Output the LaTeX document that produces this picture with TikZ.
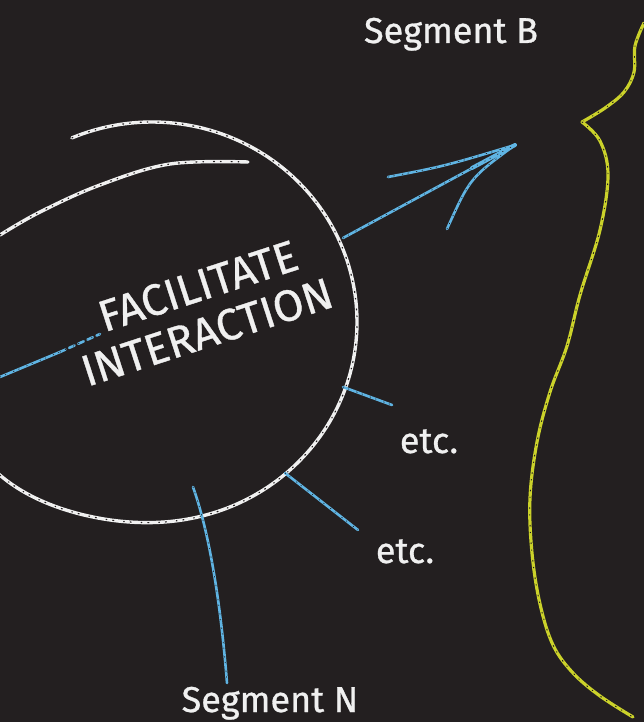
\documentclass[tikz,border=0pt]{standalone}
\usepackage{fontspec}
\setmainfont{Fira Sans}[FakeBold=0.8]
\definecolor{board}{HTML}{231F20}
\definecolor{chalkwhite}{HTML}{F0F0F0}
\definecolor{chalkblue}{HTML}{5FB4E3}
\definecolor{chalkyellow}{HTML}{CBD22A}
\tikzset{
  whitechalk/.style={draw=chalkwhite, line width=3.4pt, line cap=round, line join=round,
    postaction={draw=board, line width=1.2pt, dash pattern=on 1pt off 6pt on 0.6pt off 10pt}},
  bluechalk/.style={draw=chalkblue, line width=2.6pt, line cap=round, line join=round,
    postaction={draw=board, line width=0.7pt, dash pattern=on 0.8pt off 5pt on 0.6pt off 8pt}},
  yellowchalk/.style={draw=chalkyellow, line width=3.2pt, line cap=round, line join=round,
    postaction={draw=board, line width=0.9pt, dash pattern=on 1pt off 6pt on 0.6pt off 10pt}},
  chalktext/.style={text=chalkwhite, inner sep=0pt, font=\fontsize{36}{36}\selectfont},
  titletext/.style={text=chalkwhite, inner sep=0pt, font=\fontsize{44}{44}\selectfont},
}
\begin{document}
\begin{tikzpicture}[x=1pt, y=-1pt]
\fill[board] (0,0) rectangle (644,722);
\useasboundingbox (0,0) rectangle (644,722);

% chalk circle (outer loop and inner second pass)
\draw[whitechalk] plot[domain=-113:140, samples=90, smooth]
  ({152+(205+14*exp(-((\x-140)/28)^2))*cos(\x)}, {322+(200+14*exp(-((\x-140)/28)^2))*sin(\x)});
\draw[whitechalk] plot[smooth, tension=0.6] coordinates {(0,235) (40,212) (100,185) (170,164) (248,162)};

% yellow curve
\coordinate (yk) at (582,122);
\draw[yellowchalk] plot[smooth, tension=0.6] coordinates {(644,23) (635,46) (634,72) (624,92) (605,108) (582,122)};
\draw[yellowchalk] plot[smooth, tension=0.6] coordinates {(582,122) (600,141) (608,175) (600,230) (580,295) (567,346) (550,392) (537,442) (530,498) (532,553) (540,604) (553,645) (573,673) (600,696) (633,717)};

% texts
\node[titletext, rotate=18] (fac) at (198,286) {FACILITATE};
\node[titletext, rotate=18] (inter) at (207,332) {INTERACTION};
\node[chalktext, anchor=base] (segB) at (451,43) {Segment B};
\node[chalktext, anchor=base] (segN) at (270,712) {Segment N};
\node[chalktext, anchor=base] (etcA) at (429,453) {etc.};
\node[chalktext, anchor=base] (etcB) at (405,563) {etc.};

% blue connectors
\coordinate (l0) at (0,377);
\coordinate (l1) at (60,352);
\coordinate (l2) at (100,334);
\draw[bluechalk] (l0) -- (l1);
\draw[bluechalk, dash pattern=on 6pt off 4pt] (l1) -- (l2);

\coordinate (a1) at (343,238);
\coordinate (tip) at (515,145);
\coordinate (b1) at (388,177);
\coordinate (b2) at (447,229);
\draw[bluechalk] (a1) -- (tip);
\draw[bluechalk] (b1) .. controls (445,166) .. (tip);
\draw[bluechalk] (b2) .. controls (470,178) .. (tip);
\draw[bluechalk, line width=4pt] (472,168) -- (tip);

\coordinate (c1) at (343,387);
\coordinate (c2) at (392,405);
\draw[bluechalk] (c1) -- (c2);

\coordinate (d1) at (285,473);
\coordinate (d2) at (358,530);
\draw[bluechalk] (d1) -- (d2);

\coordinate (e1) at (193,487);
\coordinate (e2) at (227,683);
\draw[bluechalk] (e1) .. controls (212,540) and (222,620) .. (e2);
\end{tikzpicture}
\end{document}
